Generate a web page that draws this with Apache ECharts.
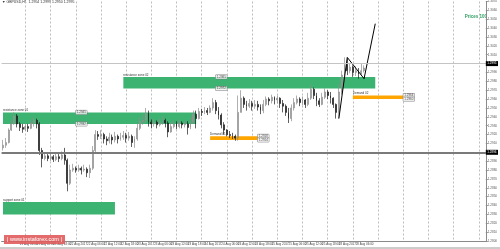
<!DOCTYPE html>
<html><head><meta charset="utf-8">
<script src="https://cdn.jsdelivr.net/npm/echarts@6/dist/echarts.min.js"></script>
<style>html,body{margin:0;padding:0;background:#fff}#c{width:500px;height:249px}</style>
</head><body><div id="c"></div>
<script>
// ---- data ----
const xLabels = ['21 Aug 2017','21 Aug 06:00','21 Aug 12:00','21 Aug 18:00','22 Aug 2017','22 Aug 06:00','22 Aug 12:00','22 Aug 18:00','23 Aug 2017','23 Aug 06:00','23 Aug 12:00','23 Aug 18:00','24 Aug 2017','24 Aug 06:00','24 Aug 12:00','24 Aug 18:00','25 Aug 2017','25 Aug 06:00','25 Aug 12:00','25 Aug 18:00','28 Aug 2017','28 Aug 06:00'];
const slotCount = 173;           // bars incl. empty right shift
const labelEvery = 6;
const gridEvery = 9, gridPhase = 8;
const firstOpen = 1.2905;
const closes = [1.2908,1.2911,1.2925,1.2932,1.2941,1.2932,1.2928,1.2926,1.2929,1.2927,1.2933,1.2936,1.2932,1.2902,1.2893,1.2896,1.2893,1.2895,1.2892,1.2895,1.2893,1.2897,1.2891,1.2865,1.2880,1.2882,1.2880,1.2882,1.2880,1.2881,1.2877,1.2882,1.2902,1.2920,1.2918,1.2920,1.2915,1.2913,1.2917,1.2914,1.2918,1.2915,1.2917,1.2919,1.2916,1.2918,1.2911,1.2915,1.2927,1.2935,1.2936,1.2944,1.2934,1.2932,1.2934,1.2931,1.2934,1.2936,1.2933,1.2923,1.2929,1.2932,1.2929,1.2933,1.2931,1.2932,1.2928,1.2934,1.2943,1.2938,1.2946,1.2945,1.2947,1.2945,1.2950,1.2956,1.2947,1.2942,1.2931,1.2925,1.2920,1.2919,1.2918,1.2916,1.2945,1.2961,1.2954,1.2952,1.2955,1.2952,1.2954,1.2951,1.2947,1.2954,1.2960,1.2958,1.2962,1.2959,1.2961,1.2955,1.2952,1.2945,1.2938,1.2950,1.2956,1.2960,1.2956,1.2959,1.2954,1.2961,1.2971,1.2964,1.2958,1.2954,1.2962,1.2968,1.2964,1.2961,1.2954,1.2945,1.2968,1.2987,1.2999,1.2992,1.2996,1.2990,1.2992,1.2988,1.2992,1.2995];
const highs = [1.2914,1.2916,1.2927,1.2936,1.2945,1.2943,1.2934,1.2932,1.2933,1.2932,1.2937,1.2940,1.2938,1.2934,1.2905,1.2900,1.2898,1.2899,1.2897,1.2899,1.2898,1.2901,1.2905,1.2893,1.2886,1.2887,1.2884,1.2886,1.2884,1.2886,1.2883,1.2886,1.2907,1.2925,1.2924,1.2925,1.2922,1.2918,1.2922,1.2920,1.2923,1.2920,1.2922,1.2924,1.2922,1.2923,1.2920,1.2918,1.2932,1.2940,1.2942,1.2950,1.2947,1.2937,1.2938,1.2936,1.2938,1.2941,1.2938,1.2935,1.2934,1.2936,1.2935,1.2937,1.2935,1.2936,1.2935,1.2940,1.2947,1.2947,1.2950,1.2949,1.2951,1.2950,1.2953,1.2961,1.2959,1.2951,1.2944,1.2934,1.2926,1.2924,1.2922,1.2920,1.2964,1.2970,1.2963,1.2958,1.2960,1.2958,1.2959,1.2958,1.2954,1.2959,1.2963,1.2962,1.2965,1.2963,1.2964,1.2962,1.2959,1.2954,1.2950,1.2954,1.2961,1.2964,1.2962,1.2963,1.2960,1.2967,1.2976,1.2973,1.2967,1.2961,1.2967,1.2972,1.2970,1.2968,1.2962,1.2955,1.2977,1.2992,1.3007,1.3006,1.3000,1.2998,1.2997,1.2995,1.3000,1.2998];
const lows = [1.2902,1.2905,1.2910,1.2924,1.2931,1.2928,1.2924,1.2922,1.2924,1.2923,1.2926,1.2929,1.2927,1.2897,1.2883,1.2891,1.2890,1.2890,1.2889,1.2890,1.2889,1.2891,1.2886,1.2856,1.2863,1.2878,1.2877,1.2878,1.2875,1.2878,1.2872,1.2871,1.2880,1.2900,1.2914,1.2915,1.2910,1.2908,1.2910,1.2909,1.2911,1.2910,1.2913,1.2914,1.2911,1.2913,1.2906,1.2905,1.2913,1.2925,1.2931,1.2933,1.2929,1.2927,1.2929,1.2927,1.2929,1.2931,1.2928,1.2917,1.2922,1.2927,1.2926,1.2927,1.2927,1.2928,1.2920,1.2926,1.2932,1.2927,1.2937,1.2941,1.2943,1.2942,1.2944,1.2947,1.2943,1.2937,1.2927,1.2920,1.2918,1.2916,1.2915,1.2913,1.2913,1.2945,1.2950,1.2947,1.2950,1.2947,1.2949,1.2947,1.2943,1.2944,1.2952,1.2953,1.2955,1.2954,1.2955,1.2950,1.2945,1.2941,1.2933,1.2935,1.2947,1.2954,1.2952,1.2953,1.2950,1.2952,1.2959,1.2960,1.2952,1.2951,1.2953,1.2960,1.2960,1.2955,1.2950,1.2938,1.2938,1.2965,1.2981,1.2987,1.2989,1.2985,1.2986,1.2983,1.2989,1.2990];
const zigzagX = [120, 123, 129, 133];
const zigzagPrice = [1.2938, 1.3007, 1.2983, 1.3045];
const zoneNames = ['resistance zone 02','resistance zone 01','support zone 01','Demand 01','Demand 02'];
const zoneKind = ['green','green','green','orange','orange'];
const zoneStart = [43, 0, 0, 74, 125];
const zoneEnd = [133, 69, 40, 91, 143];
const zoneTop = [1.2985, 1.2945, 1.2844, 1.2918, 1.2964];
const zoneBottom = [1.2972, 1.2932, 1.2830, 1.2914, 1.2960];
const tagX = [78, 78, 28, 28, 93, 93, 145, 145];
const tagPrice = [1.2985, 1.2972, 1.2945, 1.2932, 1.2918, 1.2914, 1.2964, 1.2960];
const bidPrice = 1.2995;
const pivotPrice = 1.2896;
const pivotName = 'Daily pivot';
const yMin = 1.2800, yMax = 1.3070, yStep = 0.0010;
const headerText = '\u25BC GBPUSD,H1  1.2954 1.2999 1.2950 1.2995';

// ---- build ----
const FONT = 'Liberation Sans';
const cats = Array.from({length: slotCount}, (_, i) => String(i));
const candleData = closes.map((c, i) => [i === 0 ? firstOpen : closes[i - 1], c, lows[i], highs[i]]);
const zoneColor = {green: '#3cb371', orange: '#ffa500'};
const zoneData = zoneNames.map((n, i) => [
  {name: n, xAxis: zoneStart[i], yAxis: zoneTop[i], itemStyle: {color: zoneColor[zoneKind[i]], opacity: 1}},
  {xAxis: zoneEnd[i], yAxis: zoneBottom[i]}
]);
const gridFn = (idx) => idx % gridEvery === gridPhase;

const chart = echarts.init(document.getElementById('c'), null, {renderer: 'canvas'});
chart.setOption({
  animation: false,
  backgroundColor: '#fff',
  textStyle: {fontFamily: FONT},
  grid: {left: 0, right: 11, top: 1, bottom: 8, containLabel: false},
  xAxis: [{
    type: 'category', data: cats, boundaryGap: true,
    axisLine: {show: true, lineStyle: {color: '#8a8a8a', width: 1}},
    axisTick: {show: false},
    axisLabel: {
      show: true, interval: labelEvery - 1, align: 'left', margin: 1.5,
      fontSize: 3, color: '#444', fontFamily: FONT,
      formatter: (v, idx) => xLabels[idx / labelEvery] || ''
    },
    splitLine: {show: false}
  }, {
    type: 'category', data: cats, boundaryGap: true, position: 'bottom', gridIndex: 0,
    axisLine: {show: false},
    axisTick: {show: false, interval: gridFn, alignWithLabel: true},
    axisLabel: {show: false, interval: gridFn},
    splitLine: {show: true, interval: gridFn, alignWithLabel: true, lineStyle: {color: '#bdbdbd', type: [2, 2], width: 1}}
  }],
  yAxis: {
    type: 'value', position: 'right', min: yMin, max: yMax, interval: yStep, scale: true,
    axisLine: {show: true, lineStyle: {color: '#8a8a8a'}},
    axisTick: {show: true, length: 2, lineStyle: {color: '#8a8a8a'}},
    axisLabel: {fontSize: 3, color: '#555', margin: 2, fontFamily: FONT, formatter: v => v.toFixed(4)},
    splitLine: {show: false}
  },
  series: [
    {
      type: 'line', data: [], z: 1, silent: true,
      markArea: {
        silent: true,
        label: {show: true, position: [0, -0.5], verticalAlign: 'bottom', align: 'left', fontSize: 3, color: '#333', fontFamily: FONT},
        data: zoneData
      }
    },
    {
      type: 'candlestick', data: candleData, z: 3, barWidth: 1.4,
      itemStyle: {color: '#b4b4b4', color0: '#1c1c1c', borderColor: '#8c8c8c', borderColor0: '#1c1c1c', borderWidth: 0.7},
      markLine: {
        silent: true, symbol: ['none', 'none'], animation: false,
        data: [
          {yAxis: bidPrice, lineStyle: {color: '#c4c4c4', width: 1, type: 'solid'},
           label: {show: true, position: 'end', distance: 0, formatter: bidPrice.toFixed(4), backgroundColor: '#000', color: '#fff', fontSize: 3, padding: [1, 1.5], fontFamily: FONT}},
          {yAxis: pivotPrice, lineStyle: {color: '#7a7a7a', width: 2, type: 'solid'},
           label: {show: true, position: 'end', distance: 0, formatter: pivotPrice.toFixed(4), backgroundColor: '#000', color: '#fff', fontSize: 3, padding: [1, 1.5], fontFamily: FONT}},
          {yAxis: pivotPrice, lineStyle: {opacity: 0},
           label: {show: true, position: 'insideStartTop', distance: 1.5, formatter: pivotName, color: '#333', fontSize: 3, fontFamily: FONT}}
        ]
      }
    },
    {
      type: 'line', z: 4, silent: true, symbol: 'none',
      data: zigzagX.map((x, i) => [x, zigzagPrice[i]]),
      lineStyle: {color: '#000', width: 1}
    },
    {
      type: 'scatter', z: 5, silent: true, symbolSize: 1, itemStyle: {color: 'rgba(0,0,0,0)'},
      data: tagX.map((x, i) => [x, tagPrice[i]]),
      label: {show: true, position: 'inside', formatter: p => p.value[1].toFixed(4), fontSize: 3, color: '#222',
        backgroundColor: '#f2f2f2', borderColor: '#777', borderWidth: 0.5, padding: [0.5, 1], fontFamily: FONT}
    }
  ],
  graphic: [
    {type: 'text', left: 2, top: 0.5, style: {text: headerText, fontSize: 3.5, fill: '#333', fontFamily: FONT}},
    {type: 'text', right: 13, top: 14, style: {text: 'Prices 100', fontSize: 4.5, fontWeight: 'bold', fill: '#2e9d60', fontFamily: FONT}},
    {type: 'rect', left: 4, top: 235, shape: {width: 61, height: 9}, style: {fill: '#e15b5b', opacity: 0.9}, z: 100},
    {type: 'text', left: 7, top: 236.5, style: {text: '| www.instaforex.com |', fontSize: 5.5, fill: '#fff', fontFamily: FONT}, z: 101},
    {type: 'line', shape: {x1: 0, y1: 248, x2: 500, y2: 248}, style: {stroke: '#9a9a9a', lineWidth: 1}}
  ]
});
</script>
</body></html>
